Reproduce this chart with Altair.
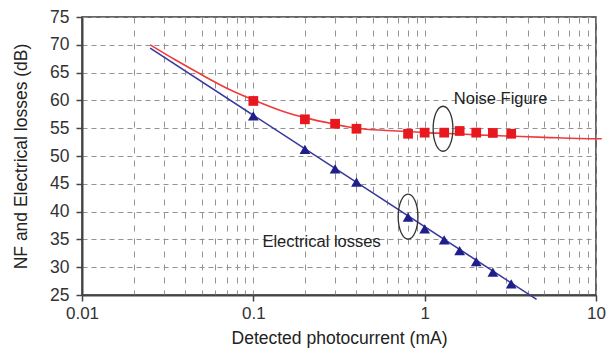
import altair as alt
import pandas as pd

# ---- data ----
nf_x = [0.1, 0.2, 0.3, 0.4, 0.8, 1.0, 1.3, 1.6, 2.0, 2.5, 3.2]
nf_y = [59.9, 56.6, 55.8, 54.9, 54.0, 54.2, 54.2, 54.5, 54.2, 54.15, 54.0]

el_x = [0.1, 0.2, 0.3, 0.4, 0.8, 1.0, 1.3, 1.6, 2.0, 2.5, 3.2]
el_y = [57.2, 51.2, 47.7, 45.3, 39.0, 36.9, 34.9, 33.0, 31.0, 29.1, 27.0]

nf_line_x = [0.025, 0.035, 0.05, 0.07, 0.1, 0.15, 0.2, 0.3, 0.4, 0.6, 0.8, 1.0, 1.5, 2.0, 3.0, 5.0, 10.0, 10.8]
nf_line_y = [70.0, 67.3, 64.6, 62.2, 60.1, 58.0, 56.9, 55.7, 55.0, 54.6, 54.4, 54.2, 54.0, 53.8, 53.6, 53.35, 53.1, 53.1]

el_line_x = [0.025, 4.5]
el_line_y = [69.4, 24.2]

ann_text = ["Noise Figure", "Electrical losses"]
ann_text_x = [1.48, 0.113]
ann_text_y = [60.3, 34.5]

ell_x = [1.28, 0.80]
ell_y = [54.9, 39.1]

x_major = [0.01, 0.1, 1, 10]
x_mult = [1, 2, 3, 4, 5, 6, 7, 8, 9]
y_ticks = [25, 30, 35, 40, 45, 50, 55, 60, 65, 70, 75]

x_values = sorted({round(d * m, 6) for d in x_major[:-1] for m in x_mult} | {10})

FONT = "Liberation Sans"
major_js = "[" + ",".join(str(v) for v in x_major) + "]"
is_major = f"indexof({major_js}, datum.value) >= 0"

xscale = alt.Scale(type="log", domain=[0.01, 10], nice=False)
yscale = alt.Scale(domain=[25, 75], nice=False, zero=False)

xaxis = alt.Axis(
    title="Detected photocurrent (mA)",
    values=x_values,
    labelExpr=f"{is_major} ? format(datum.value, '~g') : ''",
    labelOverlap=False,
    labelFlush=False,
    labelFont=FONT, labelFontSize=17, labelColor="#333333", labelPadding=4,
    tickOpacity={"condition": {"test": is_major, "value": 1}, "value": 0},
    tickSize=6, tickColor="#444444", tickWidth=1.5,
    grid=True, gridDash=[6, 7], gridColor="#939393", gridWidth=1,
    domainColor="#444444", domainWidth=2,
    titleFont=FONT, titleFontSize=17.5, titleFontWeight="normal", titleColor="#222222",
    titleX=257, titleY=43, titleBaseline="middle",
)
yaxis = alt.Axis(
    title="NF and Electrical losses (dB)",
    values=y_ticks,
    labelOverlap=False,
    labelFont=FONT, labelFontSize=17.5, labelColor="#333333", labelPadding=7,
    tickSize=6, tickColor="#444444", tickWidth=1.5,
    grid=True, gridDash=[5, 4], gridColor="#939393", gridWidth=1,
    domainColor="#444444", domainWidth=2,
    titleFont=FONT, titleFontSize=17.5, titleFontWeight="normal", titleColor="#222222",
    titleX=-61, titleY=139, titleBaseline="middle",
)


def X():
    return alt.X("x:Q", scale=xscale, axis=xaxis)


def Y():
    return alt.Y("y:Q", scale=yscale, axis=yaxis)


nf_line = alt.Chart(pd.DataFrame({"x": nf_line_x, "y": nf_line_y})).mark_line(
    color="#f03a3a", strokeWidth=1.6, interpolate="monotone", clip=False
).encode(x=X(), y=Y())

el_line = alt.Chart(pd.DataFrame({"x": el_line_x, "y": el_line_y})).mark_line(
    color="#3a3a9e", strokeWidth=1.6, clip=False
).encode(x=X(), y=Y())

nf_pts = alt.Chart(pd.DataFrame({"x": nf_x, "y": nf_y})).mark_point(
    shape="square", filled=True, size=95, color="#e8181f", opacity=1
).encode(x=X(), y=Y())

el_pts = alt.Chart(pd.DataFrame({"x": el_x, "y": el_y})).mark_point(
    shape="triangle-up", filled=True, size=115, color="#1f1f8c", opacity=1
).encode(x=X(), y=Y())

k = 0.5523
a = 0.44
ellipse_path = (
    f"M0,-1 C{k*a:.4f},-1 {a},-{k} {a},0 C{a},{k} {k*a:.4f},1 0,1 "
    f"C-{k*a:.4f},1 -{a},{k} -{a},0 C-{a},-{k} -{k*a:.4f},-1 0,-1 Z"
)
ellipses = alt.Chart(pd.DataFrame({"x": ell_x, "y": ell_y})).mark_point(
    shape=ellipse_path, filled=False, size=2025, color="#333333", strokeWidth=1.3, opacity=1
).encode(x=X(), y=Y())

labels = alt.Chart(pd.DataFrame({"x": ann_text_x, "y": ann_text_y, "t": ann_text})).mark_text(
    align="left", baseline="middle", font=FONT, fontSize=16.5, color="#222222"
).encode(x=X(), y=Y(), text="t:N")

chart = alt.layer(
    nf_line, el_line, nf_pts, el_pts, ellipses, labels
).properties(
    width=514, height=278,
    autosize=alt.AutoSizeParams(type="none"),
    padding={"left": 74, "top": 9, "right": 10, "bottom": 56},
).configure_view(
    stroke="#333333", strokeWidth=1.5
)

chart.save("out.html", embed_options={"renderer": "svg", "actions": False})
